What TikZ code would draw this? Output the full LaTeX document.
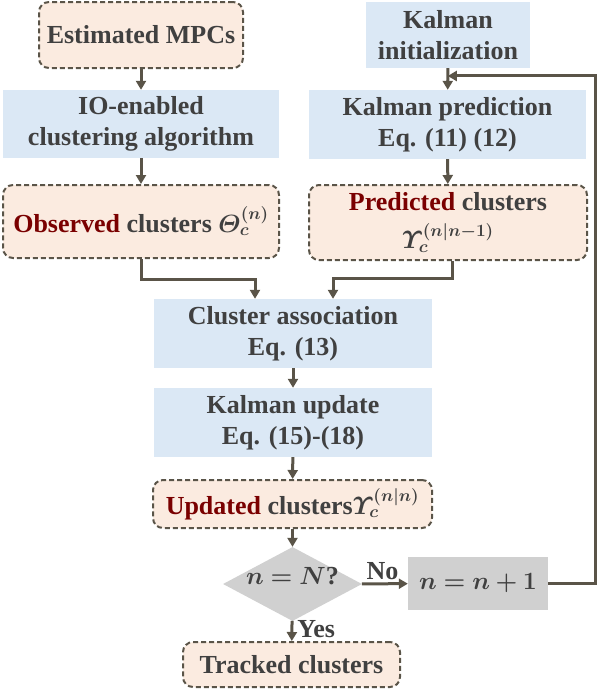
\documentclass[tikz,border=0pt]{standalone}
\usepackage{amsmath,bm}
\usepackage{fontspec}
\setmainfont{Liberation Serif}
\usetikzlibrary{shapes.geometric,arrows.meta,calc}
\definecolor{linec}{HTML}{5A5448}
\definecolor{peach}{HTML}{FBEBE0}
\definecolor{bluef}{HTML}{DBE8F5}
\definecolor{grayf}{HTML}{D0D0D0}
\definecolor{txt}{HTML}{404040}
\definecolor{redt}{HTML}{7A0000}
\begin{document}
\begin{tikzpicture}[x=1pt,y=-1pt,
  base/.style={inner sep=0pt,align=center,text=txt,font=\fontsize{26}{31}\selectfont\bfseries},
  dbox/.style={base,draw=linec,fill=peach,line width=2pt,dash pattern=on 5pt off 3pt,rounded corners=10pt},
  bbox/.style={base,fill=bluef},
  gbox/.style={base,fill=grayf},
  conn/.style={draw=linec,line width=3pt},
  arr/.style={conn,-{Triangle[length=9pt,width=10pt]}},
  lab/.style={text=txt,font=\fontsize{26}{30}\selectfont\bfseries,inner sep=1pt}
]
\useasboundingbox (0,0) rectangle (599,691);
\node[dbox,minimum width=204pt,minimum height=66pt] (mpc) at (141,35) {Estimated MPCs};
\node[bbox,minimum width=276pt,minimum height=68pt] (io) at (141,124) {IO-enabled\\clustering algorithm};
\node[dbox,minimum width=276pt,minimum height=73pt] (obs) at (141,221.5) {\textcolor{redt}{Observed} clusters $\bm{\varTheta_c^{(n)}}$};
\node[bbox,minimum width=164pt,minimum height=66pt] (kinit) at (448,35) {Kalman\\initialization};
\node[bbox,minimum width=277pt,minimum height=69pt] (kpred) at (447.5,124.5) {Kalman prediction\\Eq. (11) (12)};
\node[dbox,minimum width=278pt,minimum height=75pt] (pred) at (448,222.5) {\textcolor{redt}{Predicted} clusters\\[7pt]$\bm{\varUpsilon_c^{(n|n-1)}}$};
\node[bbox,minimum width=278pt,minimum height=69pt] (assoc) at (293,333.5) {Cluster association\\Eq. (13)};
\node[bbox,minimum width=278pt,minimum height=69pt] (kupd) at (293,422.5) {Kalman update\\Eq. (15)-(18)};
\node[dbox,minimum width=279pt,minimum height=48pt] (upd) at (292.5,504) {\textcolor{redt}{Updated} clusters$\bm{\varUpsilon_c^{(n|n)}}$};
\node[base,shape=diamond,fill=grayf,minimum width=139pt,minimum height=74pt] (dia) at (292.5,584) {\smash{\makebox[0pt]{$\bm{n=N}$?}}};
\node[gbox,minimum width=140pt,minimum height=53pt,font=\fontsize{27}{31}\selectfont\bfseries] (inc) at (478,583.5) {$\bm{n=n+1}$};
\node[dbox,minimum width=217pt,minimum height=45pt] (track) at (291.5,664.5) {Tracked clusters};
\coordinate (fb) at ($(kinit.south)!0.36!(kpred.north)$);
\draw[arr] (mpc) -- (io);
\draw[arr] (io) -- (obs);
\draw[arr] (kinit) -- (kpred);
\draw[arr] (kpred) -- (pred);
\draw[arr] (obs.south) -- ++(0,20) -| ([xshift=-38pt]assoc.north);
\draw[arr] ([xshift=4pt]pred.south) -- ++(0,17) -| ([xshift=40pt]assoc.north);
\draw[arr] (assoc) -- (kupd);
\draw[arr] (kupd) -- (upd);
\draw[arr] (upd) -- (dia);
\draw[arr] (dia) -- node[lab,right,pos=0.4,xshift=3pt] (yes) {Yes} (track);
\draw[arr] (dia) -- node[lab,above,pos=0.45,yshift=2pt] (no) {No} (inc);
\draw[arr] (inc.east) -- ++(47,0) |- (fb);
\end{tikzpicture}
\end{document}
